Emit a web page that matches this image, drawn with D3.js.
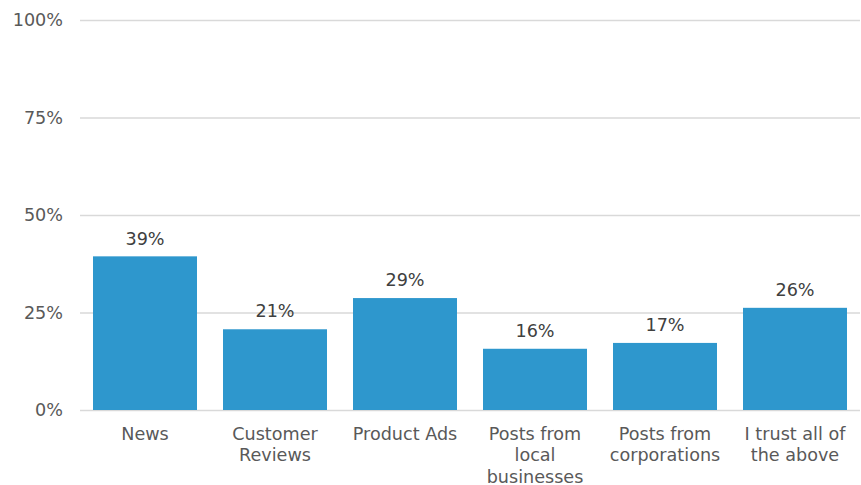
<!DOCTYPE html>
<html><head><meta charset="utf-8">
<script src="https://cdn.jsdelivr.net/npm/d3@7"></script>
<style>body{margin:0;background:#fff}svg{display:block}text{font-family:"DejaVu Sans",Verdana,sans-serif}</style>
</head><body>
<svg id="c" width="861" height="485"></svg>
<script>
const categories = [["News"],["Customer","Reviews"],["Product Ads"],["Posts from","local","businesses"],["Posts from","corporations"],["I trust all of","the above"]];
const values = [39.4, 20.7, 28.7, 15.7, 17.2, 26.2];
const yTicks = [0, 25, 50, 75, 100];

const svg = d3.select("#c");
const mLeft = 80, mRight = 860, mTop = 20, mBottom = 410;
const fs = "17.6px";
const x = d3.scaleBand().domain(categories.map((d,i)=>i)).range([mLeft,mRight]).paddingInner(0.2).paddingOuter(0.1);
const y = d3.scaleLinear().domain([0,100]).range([mBottom, mTop]);

const g = svg.append("g");
g.selectAll("line.grid").data(yTicks).enter().append("line")
  .attr("x1", mLeft).attr("x2", mRight)
  .attr("y1", d=>y(d)+0.5).attr("y2", d=>y(d)+0.5)
  .attr("stroke", "#d9d9d9").attr("stroke-width", 1.5);
g.selectAll("text.yt").data(yTicks).enter().append("text")
  .attr("x", 63).attr("y", d=>y(d)).attr("dy","0.35em")
  .attr("text-anchor","end").attr("font-size",fs).attr("fill","#595959")
  .text(d=>d+"%");

g.selectAll("rect").data(values).enter().append("rect")
  .attr("x",(d,i)=>x(i)).attr("width",x.bandwidth())
  .attr("y",d=>y(d)).attr("height",d=>y(0)-y(d))
  .attr("fill","#2e97cd");

g.selectAll("text.lbl").data(values).enter().append("text")
  .attr("x",(d,i)=>x(i)+x.bandwidth()/2).attr("y",d=>y(d)-18).attr("dy","0.35em")
  .attr("text-anchor","middle").attr("font-size",fs).attr("fill","#404040")
  .text(d=>Math.round(d)+"%");

categories.forEach((lines,i)=>{
  const t = g.append("text").attr("text-anchor","middle").attr("font-size",fs).attr("fill","#595959");
  lines.forEach((ln,j)=>{
    t.append("tspan").attr("x", x(i)+x.bandwidth()/2).attr("y", 433.5 + j*21.5).attr("dy","0.35em").text(ln);
  });
});
</script>
</body></html>
